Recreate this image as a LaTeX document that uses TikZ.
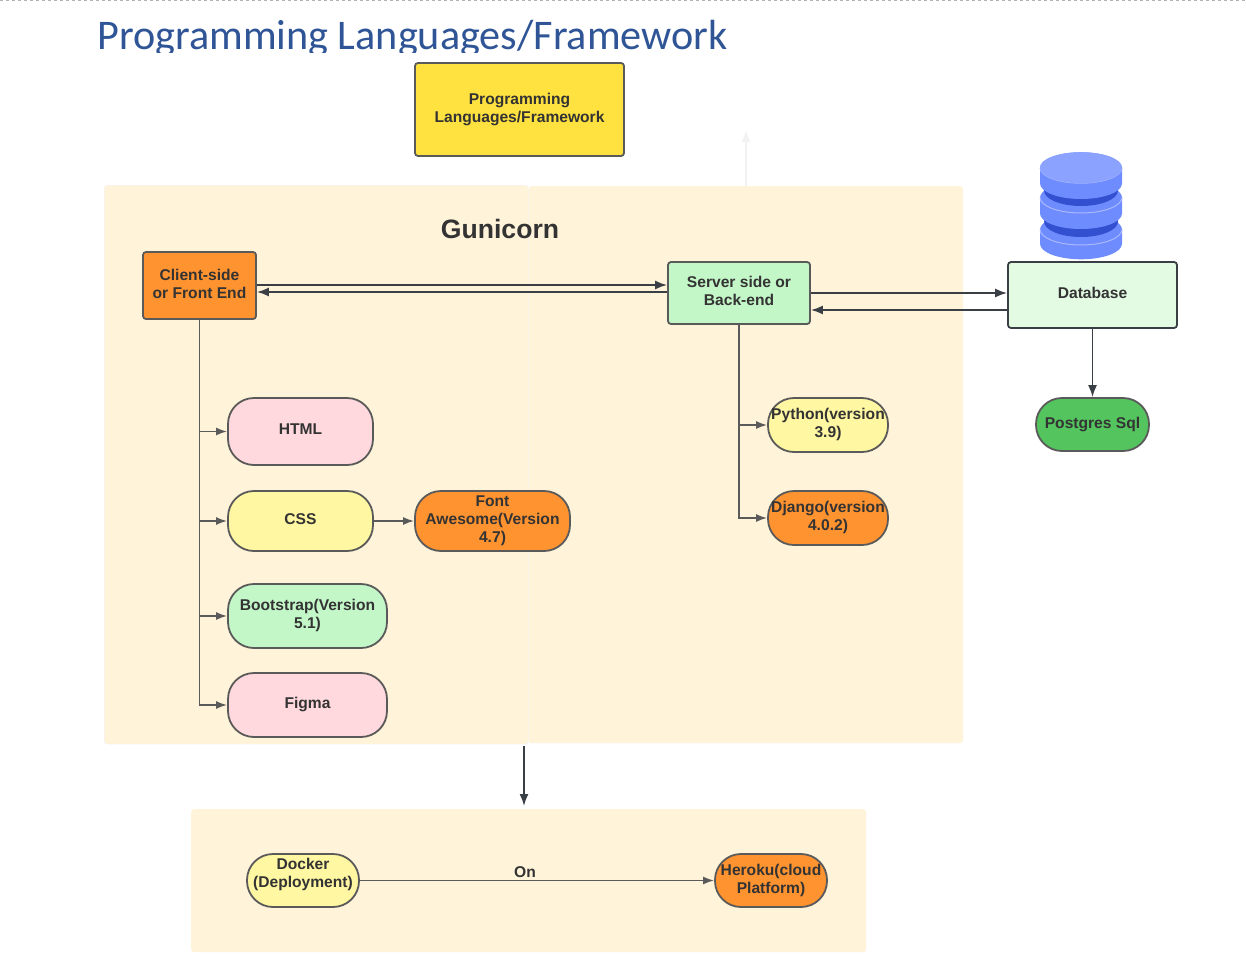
\documentclass[tikz,border=0pt]{standalone}
\usepackage{fontspec}
\setmainfont{Liberation Sans}
\newfontfamily\titlefont{Carlito}
\usetikzlibrary{arrows.meta}
\tikzset{>={Latex[width=9pt,length=12pt]}}
\definecolor{panelcol}{HTML}{FFF3D9}
\definecolor{orangecol}{HTML}{FF9330}
\definecolor{greencol}{HTML}{C3F7C8}
\definecolor{pinkcol}{HTML}{FFD9DD}
\definecolor{lemoncol}{HTML}{FFF7A1}
\definecolor{sunnycol}{HTML}{FFE13F}
\definecolor{palecol}{HTML}{E3FAE3}
\definecolor{grasscol}{HTML}{54C45E}
\definecolor{edgecol}{HTML}{5A5A5A}
\definecolor{wirecol}{HTML}{3A3F45}
\definecolor{textcol}{HTML}{333333}
\definecolor{titlecol}{HTML}{2F5597}
\definecolor{dbside}{HTML}{6F8CFF}
\definecolor{dbtop}{HTML}{8BA3FF}
\definecolor{dbdark}{HTML}{3350D0}
\definecolor{dbline}{HTML}{A9B9FF}
\tikzset{
  panel/.style={fill=panelcol, rounded corners=3pt, inner sep=0pt, anchor=north west},
  box/.style={draw=edgecol, line width=1.8pt, rounded corners=3pt, inner sep=0pt, align=center,
    text=textcol, text depth=4pt, font=\bfseries\fontsize{15.6}{18}\selectfont},
  pill/.style={box, rounded corners=26pt},
  wire/.style={->, draw=wirecol, line width=1.7pt},
  twig/.style={->, draw=edgecol, line width=1.7pt, >={Latex[width=8pt,length=11pt]}},
}

\begin{document}
\begin{tikzpicture}[x=1pt, y=-1pt]
  \useasboundingbox (0,0) rectangle (1246,958);

  \draw[gray!60, line width=1pt, dashed] (0,0.5) -- (1246,0.5);
  \begin{scope}
    \clip (90,10) rectangle (740,53);
    \node[anchor=base west, inner sep=0pt, text=titlecol, font=\titlefont\fontsize{42.2}{48}\selectfont] (title) at (97,50) {Programming Languages/Framework};
  \end{scope}

  % panels
  \node[panel, minimum width=435pt, minimum height=557pt] (rightpanel) at (528,186) {};
  \node[panel, draw=white!95!blue, minimum width=424pt, minimum height=559pt] (leftpanel) at (104,185) {};
  \node[panel, minimum width=675pt, minimum height=143pt] (deploypanel) at (191,809) {};
  \node[font=\bfseries\fontsize{26.6}{30}\selectfont, text=textcol] (gunicorn) at (500,229) {Gunicorn};

  % faint arrow on top of the right panel
  \coordinate (fadetip) at (746,130);
  \coordinate (fadefoot) at (746,186);
  \draw[->, draw=black!5, line width=1.2pt] (fadefoot) -- (fadetip);

  \node[box, fill=sunnycol, minimum width=209pt, minimum height=93pt] (prog) at (519.5,109.5) {Programming\\Languages/Framework};

  % top row
  \node[box, fill=orangecol, minimum width=113pt, minimum height=67pt] (client) at (199.5,285.5) {Client-side\\or Front End};
  \node[box, fill=greencol, minimum width=142pt, minimum height=62pt] (server) at (739,293) {Server side or\\Back-end};
  \node[box, draw=wirecol, fill=palecol, minimum width=169pt, minimum height=66pt] (database) at (1092.5,295) {Database};

  % client side
  \node[pill, fill=pinkcol, minimum width=145pt, minimum height=67pt] (html) at (300.5,431.5) {HTML};
  \node[pill, fill=lemoncol, minimum width=145pt, minimum height=60pt] (css) at (300.5,521) {CSS};
  \node[pill, fill=orangecol, minimum width=155pt, minimum height=60pt] (font) at (492.5,521) {Font\\Awesome(Version\\4.7)};
  \node[pill, fill=greencol, minimum width=159pt, minimum height=64pt] (bootstrap) at (307.5,616) {Bootstrap(Version\\5.1)};
  \node[pill, fill=pinkcol, minimum width=159pt, minimum height=64pt] (figma) at (307.5,705) {Figma};

  % server side
  \node[pill, fill=lemoncol, minimum width=120pt, minimum height=54pt] (python) at (828,425) {Python(version\\3.9)};
  \node[pill, fill=orangecol, minimum width=120pt, minimum height=54pt] (django) at (828,518) {Django(version\\4.0.2)};
  \node[pill, fill=grasscol, minimum width=113pt, minimum height=53pt] (postgres) at (1092.5,424.5) {Postgres Sql};

  % deployment
  \node[pill, fill=lemoncol, text depth=15pt, minimum width=112pt, minimum height=53pt] (docker) at (303,880.5) {Docker\\(Deployment)};
  \node[pill, fill=orangecol, minimum width=112pt, minimum height=53pt] (heroku) at (771,880.5) {Heroku(cloud\\Platform)};

  % database icon
  \foreach \discA/\discB/\discC in {229.5/243.8/235, 197.5/213.5/221.5, 167.7/183.5/190.5}{
    \fill[dbdark] (1081,\discC) ellipse [x radius=37pt, y radius=15.5pt];
    \fill[dbside] (1081,\discA) ellipse [x radius=41pt, y radius=15.5pt];
    \fill[dbside] (1040,\discA) -- (1122,\discA) -- (1122,\discB) arc[start angle=0, end angle=-180, x radius=41pt, y radius=15.5pt] -- cycle;
    \draw[dbline, line width=1pt] (1122,\discA) arc[start angle=0, end angle=-180, x radius=41pt, y radius=15.5pt];
  }
  \fill[dbtop] (1081,167.7) ellipse [x radius=41pt, y radius=15.5pt];

  % connectors
  \draw[wire] (client.east |- 0,285) -- (server.west |- 0,285);
  \draw[wire] (server.west |- 0,292) -- (client.east |- 0,292);
  \draw[wire] (server.east) -- (database.west |- server.east);
  \draw[wire] (database.west |- 0,310) -- (server.east |- 0,310);
  \draw[wire] (database.south) -- (postgres.north);

  \foreach \leaf in {html, css, bootstrap, figma}
    \draw[twig] (client.south) |- (\leaf.west);
  \foreach \leaf in {python, django}
    \draw[twig] (server.south) |- (\leaf.west);
  \draw[twig] (css.east) -- (font.west);
  \draw[twig] (docker.east) -- node[pos=0.466, above=-1.5pt, text=textcol, font=\bfseries\fontsize{15.6}{18}\selectfont] (onlabel) {On} (heroku.west);

  \coordinate (dropstart) at (524,746);
  \coordinate (dropend) at (524,806);
  \draw[wire] (dropstart) -- (dropend);
\end{tikzpicture}
\end{document}
